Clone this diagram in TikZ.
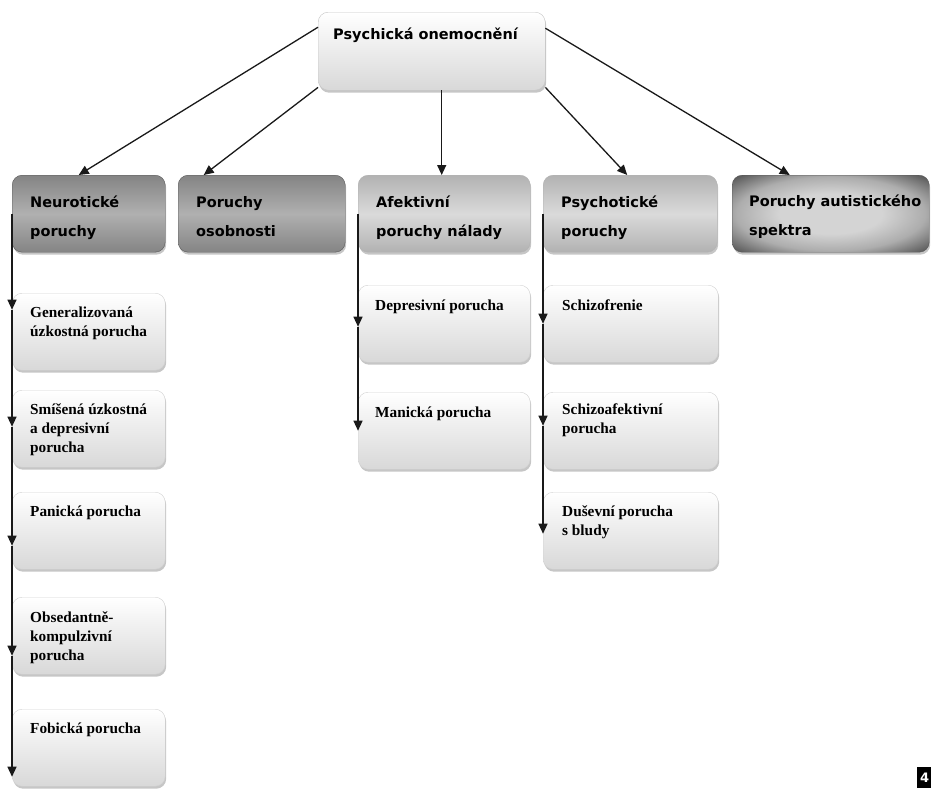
\documentclass[tikz,border=0pt]{standalone}
\usepackage{fontspec}
\usetikzlibrary{arrows.meta,shadows}
\newfontfamily\headfont{DejaVu Sans}
\newfontfamily\kidfont{Liberation Serif}
\definecolor{darkbox}{RGB}{132,132,132}
\definecolor{darkmid}{RGB}{176,176,176}
\definecolor{lightbox}{RGB}{178,178,178}
\definecolor{lightmid}{RGB}{218,218,218}
\definecolor{autdark}{RGB}{82,82,82}
\definecolor{autmid}{RGB}{212,212,212}
\definecolor{kidbottom}{RGB}{216,216,216}
\definecolor{linegray}{RGB}{25,25,25}
\pgfdeclareradialshading{autglow}{\pgfpoint{0bp}{0bp}}{color(0bp)=(autmid); color(13bp)=(autmid);
    color(24bp)=(autmid!70!autdark); color(35bp)=(autdark); color(50bp)=(autdark)}

\begin{document}
\begin{tikzpicture}[x=1pt,y=-1pt,
    box/.style={rectangle, rounded corners=10pt, anchor=north west, inner sep=0pt,
        drop shadow={shadow xshift=1pt, shadow yshift=-2.5pt, opacity=0.45}},
    topbox/.style={box, draw=gray!45, top color=white, bottom color=kidbottom,
        minimum width=227pt, minimum height=78pt},
    darkhead/.style={box, draw=gray!70!black, top color=darkbox, bottom color=darkbox,
        middle color=darkmid, minimum height=77pt},
    lighthead/.style={box, draw=gray!60, top color=lightbox, bottom color=lightbox,
        middle color=lightmid, minimum height=77pt},
    authead/.style={box, draw=gray!70!black, shading=autglow, minimum height=77pt},
    kid/.style={box, draw=gray!35, top color=white, bottom color=kidbottom, minimum height=77pt},
    headtext/.style={anchor=north west, inner sep=0pt, align=left,
        font=\headfont\bfseries\fontsize{14.5}{29}\selectfont},
    kidtext/.style={anchor=north west, inner sep=0pt, align=left,
        font=\kidfont\bfseries\fontsize{15.3}{19}\selectfont},
    arr/.style={-{Triangle[length=10pt,width=9pt]}, line width=1.3pt, draw=linegray}]

    \useasboundingbox (0,0) rectangle (931,788);

    \node[topbox] (root) at (318,12) {};
    \node[headtext] (rootTxt) at ([shift={(15pt,-16pt)}]root.north west) {Psychická onemocnění};

    \node[darkhead, minimum width=153pt] (neu) at (12,175) {};
    \node[darkhead, minimum width=167pt] (osob) at (178,175) {};
    \node[lighthead, minimum width=172pt] (afek) at (358,175) {};
    \node[lighthead, minimum width=174pt] (psy) at (543,175) {};
    \node[authead, minimum width=197pt] (aut) at (732,175) {};

    \node[headtext] (neuTxt) at ([shift={(18pt,-21pt)}]neu.north west) {Neurotické\\poruchy};
    \node[headtext] (osobTxt) at ([shift={(18pt,-21pt)}]osob.north west) {Poruchy\\osobnosti};
    \node[headtext] (afekTxt) at ([shift={(18pt,-21pt)}]afek.north west) {Afektivní\\poruchy nálady};
    \node[headtext] (psyTxt) at ([shift={(18pt,-21pt)}]psy.north west) {Psychotické\\poruchy};
    \node[headtext] (autTxt) at ([shift={(17pt,-20pt)}]aut.north west) {Poruchy autistického\\spektra};

    \node[kid, minimum width=153pt] (gen) at (12,293) {};
    \node[kid, minimum width=153pt] (sms) at (12,390) {};
    \node[kid, minimum width=153pt] (pan) at (12,492) {};
    \node[kid, minimum width=153pt] (obs) at (12,597) {};
    \node[kid, minimum width=153pt] (fob) at (12,709) {};

    \node[kid, minimum width=172pt] (dep) at (358,285) {};
    \node[kid, minimum width=172pt] (man) at (358,392) {};

    \node[kid, minimum width=175pt] (sch) at (543,285) {};
    \node[kid, minimum width=175pt] (saf) at (543,392) {};
    \node[kid, minimum width=175pt] (dus) at (543,492) {};

    \node[kidtext] (genTxt) at ([shift={(18pt,-14pt)}]gen.north west) {Generalizovaná\\úzkostná porucha};
    \node[kidtext] (smsTxt) at ([shift={(18pt,-14pt)}]sms.north west) {Smíšená úzkostná\\a depresivní\\porucha};
    \node[kidtext] (panTxt) at ([shift={(18pt,-14pt)}]pan.north west) {Panická porucha};
    \node[kidtext] (obsTxt) at ([shift={(18pt,-14pt)}]obs.north west) {Obsedantně-\\kompulzivní\\porucha};
    \node[kidtext] (fobTxt) at ([shift={(18pt,-14pt)}]fob.north west) {Fobická porucha};
    \node[kidtext] (depTxt) at ([shift={(17pt,-15pt)}]dep.north west) {Depresivní porucha};
    \node[kidtext] (manTxt) at ([shift={(17pt,-15pt)}]man.north west) {Manická porucha};
    \node[kidtext] (schTxt) at ([shift={(19pt,-15pt)}]sch.north west) {Schizofrenie};
    \node[kidtext] (safTxt) at ([shift={(19pt,-12pt)}]saf.north west) {Schizoafektivní\\porucha};
    \node[kidtext] (dusTxt) at ([shift={(19pt,-14pt)}]dus.north west) {Duševní porucha\\s bludy};

    \draw[arr] ([yshift=24pt]root.west) -- ([xshift=-10pt]neu.north);
    \draw[arr] ([yshift=3pt]root.south west) -- ([xshift=-58pt]osob.north);
    \draw[arr] ([xshift=10pt]root.south) -- ([xshift=10pt]root.south |- afek.north);
    \draw[arr] ([yshift=3pt]root.south east) -- ([xshift=-3pt]psy.north);
    \draw[arr] ([yshift=23pt]root.east) -- ([xshift=-41pt]aut.north);

    \draw[arr] (neu.west) -- ([yshift=22pt]gen.west);
    \draw[arr] ([yshift=22pt]gen.west) -- ([yshift=2pt]sms.west);
    \draw[arr] ([yshift=2pt]sms.west) -- ([yshift=-15pt]pan.west);
    \draw[arr] ([yshift=-15pt]pan.west) -- ([yshift=-20pt]obs.west);
    \draw[arr] ([yshift=-20pt]obs.west) -- ([yshift=-29pt]fob.west);

    \draw[arr] (afek.west) -- ([yshift=-3pt]dep.west);
    \draw[arr] ([yshift=-3pt]dep.west) -- (man.west);

    \draw[arr] (psy.west) -- (sch.west);
    \draw[arr] (sch.west) -- ([yshift=5pt]saf.west);
    \draw[arr] ([yshift=5pt]saf.west) -- ([yshift=-3pt]dus.west);

    \node[fill=black, text=white, anchor=north west, inner xsep=3pt, inner ysep=0pt,
        minimum height=21pt, font=\headfont\bfseries\fontsize{13}{13}\selectfont] (pg) at (917,767) {4};
\end{tikzpicture}
\end{document}
